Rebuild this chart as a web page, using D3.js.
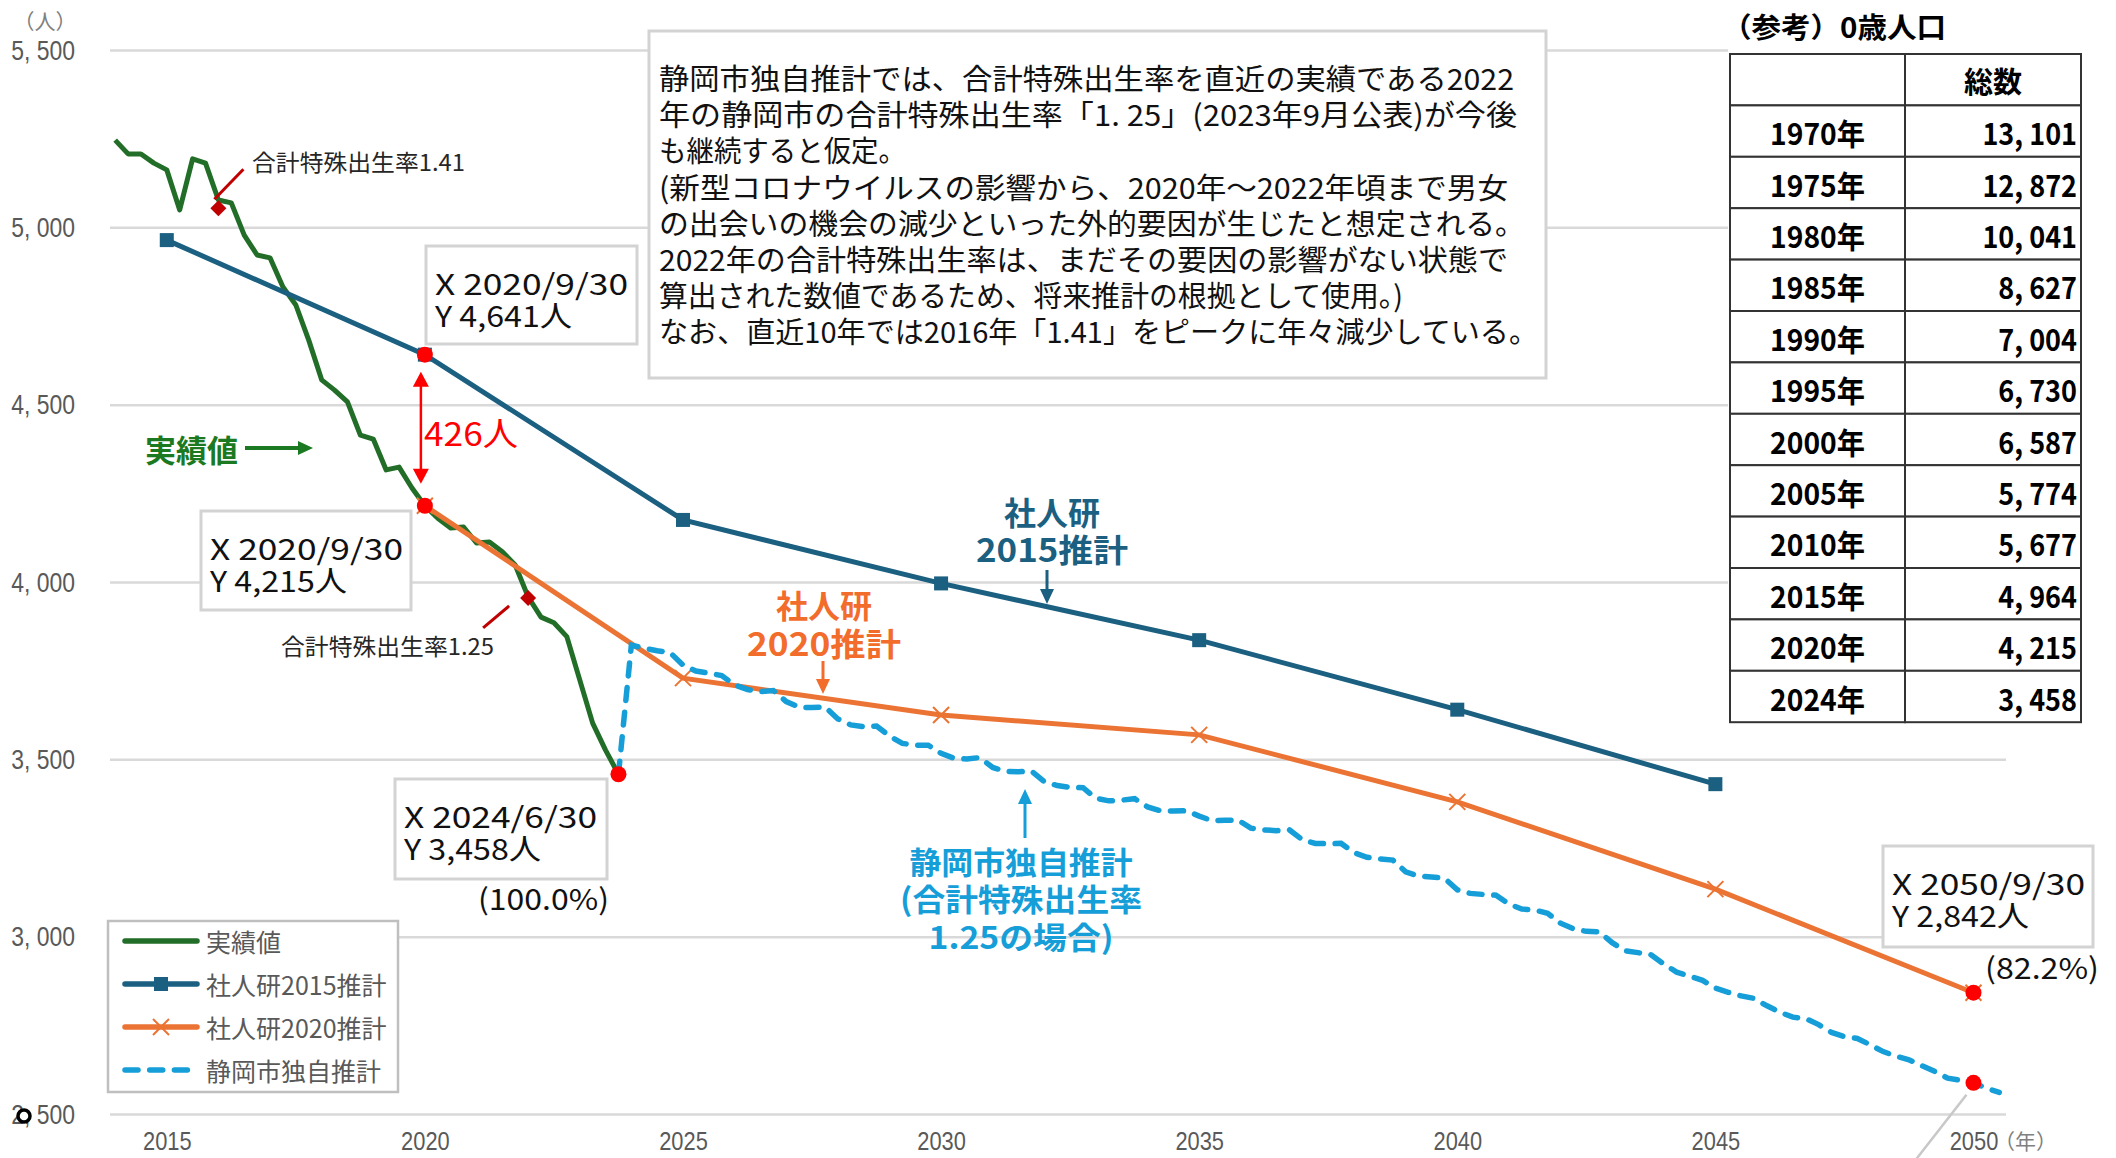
<!DOCTYPE html>
<html>
<head>
<meta charset="utf-8">
<script src="https://cdn.jsdelivr.net/npm/d3@7"></script>
<style>
	body { margin: 0; background: #fff; }
	text { font-family: "Noto Sans CJK JP", "Noto Sans", sans-serif; }
	text.num { font-family: "Liberation Sans", "DejaVu Sans", sans-serif; }
</style>
</head>
<body>
<svg id="chart" width="2116" height="1158"></svg>
<script>
// ---- data (decimal years, 2020.75 = 2020/9/30) ----
const actualStart = 2014.75; // quarterly from 2014/9/30
const actualValues = [5246, 5207, 5207, 5181, 5162, 5049, 5193, 5181, 5077, 5069,
	4978, 4922, 4914, 4832, 4781, 4682, 4570, 4541, 4508, 4414,
	4403, 4316, 4324, 4265, 4215, 4180, 4152, 4155, 4110, 4113,
	4085, 4048, 3958, 3901, 3885, 3846, 3724, 3602, 3526, 3458];

const ipss2015Years = [2015, 2020, 2025, 2030, 2035, 2040, 2045];
const ipss2015Values = [4964, 4641, 4175, 3996, 3836, 3640, 3430];

const ipss2020Years = [2020, 2025, 2030, 2035, 2040, 2045, 2050];
const ipss2020Values = [4215, 3729, 3625, 3569, 3380, 3134, 2842];

const cityStart = 2024.5; // quarterly from 2024/6/30
const cityValues = [3458, 3822, 3813, 3806, 3801, 3766, 3749, 3743, 3736, 3710,
	3697, 3691, 3694, 3663, 3647, 3646, 3648, 3614, 3597, 3592,
	3594, 3566, 3545, 3540, 3540, 3517, 3503, 3501, 3505, 3477,
	3466, 3465, 3467, 3437, 3426, 3421, 3420, 3390, 3383, 3385,
	3389, 3366, 3355, 3354, 3355, 3340, 3327, 3328, 3329, 3306,
	3301, 3299, 3301, 3273, 3263, 3262, 3263, 3237, 3224, 3219,
	3216, 3183, 3171, 3168, 3165, 3132, 3122, 3119, 3117, 3092,
	3078, 3075, 3066, 3038, 3022, 3015, 3014, 2983, 2960, 2955,
	2949, 2923, 2900, 2889, 2877, 2855, 2843, 2833, 2826, 2805,
	2787, 2773, 2769, 2752, 2730, 2718, 2713, 2695, 2676, 2663,
	2653, 2636, 2620, 2601, 2595, 2588, 2573, 2561];

const yTicks = [2500, 3000, 3500, 4000, 4500, 5000, 5500];
const xTicks = [2015, 2020, 2025, 2030, 2035, 2040, 2045, 2050];

// red highlighted points
const highlightPoints = [[2020.75, 4641], [2020.75, 4215], [2024.5, 3458], [2050.75, 2842], [2050.75, 2588]];
// 合計特殊出生率 markers
const tfrPoints = [[2016.75, 5054, "合計特殊出生率1.41"], [2022.75, 3955, "合計特殊出生率1.25"]];

const tableYears = ["1970年", "1975年", "1980年", "1985年", "1990年", "1995年", "2000年", "2005年", "2010年", "2015年", "2020年", "2024年"];
const tableTotals = ["13, 101", "12, 872", "10, 041", "8, 627", "7, 004", "6, 730", "6, 587", "5, 774", "5, 677", "4, 964", "4, 215", "3, 458"];

const noteLines = [
	"静岡市独自推計では、合計特殊出生率を直近の実績である2022",
	"年の静岡市の合計特殊出生率「1. 25」(2023年9月公表)が今後",
	"も継続すると仮定。",
	"(新型コロナウイルスの影響から、2020年～2022年頃まで男女",
	"の出会いの機会の減少といった外的要因が生じたと想定される。",
	"2022年の合計特殊出生率は、まだその要因の影響がない状態で",
	"算出された数値であるため、将来推計の根拠として使用。)",
	"なお、直近10年では2016年「1.41」をピークに年々減少している。"
];
const noteWidths = [855, 858, 247, 849, 866, 849, 744, 879];

const GREEN = "#226e28", BLUE = "#1b5f81", ORANGE = "#eb7333", CYAN = "#159ed8", RED = "#ff0000", DARKRED = "#c00000";

const svg = d3.select("#chart");

const x = d3.scaleLinear().domain([2014.65, 2051.38]).range([110, 2006]);
const y = d3.scaleLinear().domain([2500, 5500]).range([1114, 50]);

function squeeze(sel, f) {
	sel.each(function () {
		let w = this.getComputedTextLength();
		d3.select(this).attr("textLength", w * f).attr("lengthAdjust", "spacingAndGlyphs");
	});
}
function fit(sel, w) {
	sel.attr("textLength", w).attr("lengthAdjust", "spacingAndGlyphs");
}

// ---- axes / grid ----
let gy = svg.append("g")
	.attr("transform", "translate(" + x.range()[0] + ",0)")
	.call(d3.axisLeft(y).tickValues(yTicks)
		.tickSize(-(x.range()[1] - x.range()[0]))
		.tickPadding(35)
		.tickFormat(d => d3.format(",")(d).replace(",", ", ")));
gy.select(".domain").remove();
gy.selectAll("line").attr("stroke", "#d9d9d9").attr("stroke-width", 2.5);
gy.selectAll("text").attr("class", "num")
	.attr("dy", null).attr("dominant-baseline", "central")
	.attr("fill", "#595959").style("font-size", "27px");
squeeze(gy.selectAll("text"), 0.85);

let gx = svg.append("g")
	.attr("transform", "translate(0," + y(2500) + ")")
	.call(d3.axisBottom(x).tickValues(xTicks.map(v => v + 0.75)).tickSize(0).tickFormat(d => Math.floor(d)));
gx.select(".domain").remove();
gx.selectAll("text").attr("class", "num")
	.attr("y", 27).attr("dy", null).attr("dominant-baseline", "central")
	.attr("fill", "#595959").style("font-size", "26px");
squeeze(gx.selectAll("text"), 0.84);

svg.append("text").attr("x", 45).attr("y", 20).attr("text-anchor", "middle")
	.attr("dominant-baseline", "central").attr("fill", "#808080").style("font-size", "21px").text("（人）");
svg.append("text").attr("x", 1994).attr("y", 1140)
	.attr("dominant-baseline", "central").attr("fill", "#808080").style("font-size", "21px").text("（年）");

// odd little ring over the 2,500 label
svg.append("circle").attr("cx", 24).attr("cy", 1116).attr("r", 6)
	.attr("fill", "#fff").attr("stroke", "#000").attr("stroke-width", 3.5);

// ---- series ----
let line = d3.line().x(d => x(d.t)).y(d => y(d.v));

let actual = actualValues.map((v, i) => ({ t: actualStart + i * 0.25, v: v }));
let s2015 = ipss2015Years.map((yr, i) => ({ t: yr + 0.75, v: ipss2015Values[i] }));
let s2020 = ipss2020Years.map((yr, i) => ({ t: yr + 0.75, v: ipss2020Values[i] }));
let city = cityValues.map((v, i) => ({ t: cityStart + i * 0.25, v: v }));

svg.append("path").datum(actual).attr("d", line)
	.attr("fill", "none").attr("stroke", GREEN).attr("stroke-width", 5).attr("stroke-linejoin", "round");

svg.append("path").datum(s2015).attr("d", line)
	.attr("fill", "none").attr("stroke", BLUE).attr("stroke-width", 5);
svg.selectAll(".sq").data(s2015).enter().append("rect")
	.attr("class", "sq")
	.attr("x", d => x(d.t) - 7).attr("y", d => y(d.v) - 7)
	.attr("width", 14).attr("height", 14).attr("fill", BLUE);

svg.append("path").datum(s2020).attr("d", line)
	.attr("fill", "none").attr("stroke", ORANGE).attr("stroke-width", 5);
svg.selectAll(".cross").data(s2020).enter().append("path")
	.attr("class", "cross")
	.attr("d", d => {
		let cx = x(d.t), cy = y(d.v), r = 8;
		return "M" + (cx - r) + "," + (cy - r) + "L" + (cx + r) + "," + (cy + r) +
			"M" + (cx - r) + "," + (cy + r) + "L" + (cx + r) + "," + (cy - r);
	})
	.attr("stroke", ORANGE).attr("stroke-width", 2);

svg.append("path").datum(city).attr("d", line)
	.attr("fill", "none").attr("stroke", CYAN).attr("stroke-width", 5.5)
	.attr("stroke-linecap", "round").attr("stroke-dasharray", "13 11.7");

// 合計特殊出生率 diamonds + leader lines
tfrPoints.forEach((p, i) => {
	let cx = x(p[0]), cy = y(p[1]);
	svg.append("path")
		.attr("d", "M" + cx + "," + (cy - 8) + "L" + (cx + 8) + "," + cy + "L" + cx + "," + (cy + 8) + "L" + (cx - 8) + "," + cy + "Z")
		.attr("fill", DARKRED);
	let t;
	if (i == 0) {
		svg.append("line").attr("x1", cx - 4).attr("y1", cy - 9).attr("x2", cx + 25).attr("y2", cy - 39)
			.attr("stroke", DARKRED).attr("stroke-width", 3);
		t = svg.append("text").attr("x", 252).attr("y", 161);
	} else {
		svg.append("line").attr("x1", cx - 19).attr("y1", cy + 8).attr("x2", cx - 45).attr("y2", cy + 30)
			.attr("stroke", DARKRED).attr("stroke-width", 3);
		t = svg.append("text").attr("x", 281).attr("y", 645);
	}
	t.attr("dominant-baseline", "central").attr("fill", "#262626").style("font-size", "23px").text(p[2]);
	fit(t, 213);
});

// ---- difference arrow 426人 ----
let ax = x(2020.75) - 4;
svg.append("line").attr("x1", ax).attr("x2", ax)
	.attr("y1", y(4641) + 28).attr("y2", y(4215) - 30)
	.attr("stroke", RED).attr("stroke-width", 2.5);
svg.append("path").attr("d", "M" + ax + "," + (y(4641) + 17) + "l-8,15h16z").attr("fill", RED);
svg.append("path").attr("d", "M" + ax + "," + (y(4215) - 22) + "l-8,-15h16z").attr("fill", RED);
let diffLabel = svg.append("text").attr("x", 424).attr("y", 432).attr("dominant-baseline", "central")
	.attr("fill", RED).style("font-size", "33px").text("426人");
fit(diffLabel, 94);

// ---- value boxes ----
function valueBox(bx, by, bw, bh, lines) {
	svg.append("rect").attr("x", bx).attr("y", by).attr("width", bw).attr("height", bh)
		.attr("fill", "#fff").attr("stroke", "#d3d3d3").attr("stroke-width", 3);
	lines.forEach((s, i) => {
		let t = svg.append("text").attr("x", bx + 9).attr("y", by + 36 + i * 31.5)
			.attr("dominant-baseline", "central").attr("fill", "#111").style("font-size", "29px").text(s);
		fit(t, i == 0 ? 193 : 137);
	});
}
valueBox(426, 246, 211, 98, ["X 2020/9/30", "Y 4,641人"]);
valueBox(201, 511, 210, 99, ["X 2020/9/30", "Y 4,215人"]);
valueBox(395, 779, 212, 100, ["X 2024/6/30", "Y 3,458人"]);
valueBox(1883, 846, 210, 101, ["X 2050/9/30", "Y 2,842人"]);

let pct1 = svg.append("text").attr("x", 478).attr("y", 897).attr("dominant-baseline", "central")
	.attr("fill", "#111").style("font-size", "29px").text("(100.0%)");
fit(pct1, 131);
let pct2 = svg.append("text").attr("x", 1985).attr("y", 966).attr("dominant-baseline", "central")
	.attr("fill", "#111").style("font-size", "29px").text("(82.2%)");
fit(pct2, 114);

// leader from the 2050 dashed point
svg.append("line")
	.attr("x1", x(2050.75) - 7).attr("y1", y(2588) + 12)
	.attr("x2", x(2050.75) - 57).attr("y2", y(2588) + 76)
	.attr("stroke", "#c8c8c8").attr("stroke-width", 2.5);

// red points on top
svg.selectAll(".hl").data(highlightPoints).enter().append("circle")
	.attr("class", "hl")
	.attr("cx", d => x(d[0])).attr("cy", d => y(d[1])).attr("r", 8).attr("fill", RED);

// ---- series labels ----
function label(cx, cys, lines, widths, color, size) {
	lines.forEach((s, i) => {
		let t = svg.append("text").attr("x", cx).attr("y", cys[i]).attr("text-anchor", "middle")
			.attr("dominant-baseline", "central").attr("fill", color)
			.style("font-size", size + "px").style("font-weight", "bold").text(s);
		if (widths[i]) fit(t, widths[i]);
	});
}
function arrow(x0, y0, y1, color, w) {
	let dir = y1 > y0 ? 1 : -1;
	svg.append("line").attr("x1", x0).attr("x2", x0).attr("y1", y0).attr("y2", y1 - dir * 12)
		.attr("stroke", color).attr("stroke-width", w);
	svg.append("path").attr("d", "M" + x0 + "," + y1 + "l-7," + (-dir * 15) + "h14z").attr("fill", color);
}

label(1052, [511, 548], ["社人研", "2015推計"], [0, 152], BLUE, 32);
arrow(1047, 570, 604, BLUE, 3);
label(824, [604, 642], ["社人研", "2020推計"], [0, 154], "#f26c2c", 32);
arrow(823, 661, 694, "#f26c2c", 3);
label(1021, [860, 897, 935], ["静岡市独自推計", "(合計特殊出生率", "1.25の場合)"], [223, 242, 185], CYAN, 31);
arrow(1025, 838, 789, CYAN, 3);

svg.append("text").attr("x", 145).attr("y", 448).attr("dominant-baseline", "central")
	.attr("fill", "#1b7a21").style("font-size", "31px").style("font-weight", "bold").text("実績値");
svg.append("line").attr("x1", 245).attr("x2", 300).attr("y1", 448).attr("y2", 448)
	.attr("stroke", "#1b7a21").attr("stroke-width", 4);
svg.append("path").attr("d", "M313,448l-15,-7v14z").attr("fill", "#1b7a21");

// ---- note box ----
svg.append("rect").attr("x", 649).attr("y", 31).attr("width", 897).attr("height", 347)
	.attr("fill", "#fff").attr("stroke", "#d3d3d3").attr("stroke-width", 3);
noteLines.forEach((s, i) => {
	let t = svg.append("text").attr("x", 659).attr("y", 77 + i * 36.2)
		.attr("dominant-baseline", "central").attr("fill", "#111").style("font-size", "29px").text(s);
	fit(t, noteWidths[i]);
});

// ---- reference table ----
svg.append("rect").attr("x", 1728).attr("y", 0).attr("width", 388).attr("height", 724).attr("fill", "#fff");
let ttl = svg.append("text").attr("x", 1722).attr("y", 26).attr("dominant-baseline", "central")
	.attr("fill", "#000").style("font-size", "28px").style("font-weight", "bold").text("（参考）0歳人口");
fit(ttl, 224);

const tX = 1730, tMid = 1905, tR = 2081, tTop = 54, rowH = 51.4;
let rows = [["", "総数"]].concat(tableYears.map((yr, i) => [yr, tableTotals[i]]));
let tg = svg.append("g");
rows.forEach((r, i) => {
	let ry = tTop + i * rowH;
	tg.append("rect").attr("x", tX).attr("y", ry).attr("width", tMid - tX).attr("height", rowH)
		.attr("fill", "#fff").attr("stroke", "#333").attr("stroke-width", 2);
	tg.append("rect").attr("x", tMid).attr("y", ry).attr("width", tR - tMid).attr("height", rowH)
		.attr("fill", "#fff").attr("stroke", "#333").attr("stroke-width", 2);
	if (i == 0) {
		tg.append("text").attr("x", (tMid + tR) / 2).attr("y", ry + rowH / 2).attr("text-anchor", "middle")
			.attr("dominant-baseline", "central").style("font-size", "29px").style("font-weight", "bold").text(r[1]);
	} else {
		let yl = tg.append("text").attr("x", (tX + tMid) / 2).attr("y", ry + rowH / 2 + 1).attr("text-anchor", "middle")
			.attr("dominant-baseline", "central").style("font-size", "30px").style("font-weight", "bold").text(r[0]);
		squeeze(yl, 0.94);
		let v = tg.append("text").attr("x", tR - 4).attr("y", ry + rowH / 2 + 1).attr("text-anchor", "end")
			.attr("dominant-baseline", "central").style("font-size", "30px").style("font-weight", "bold").text(r[1]);
		squeeze(v, 0.9);
	}
});

// ---- legend ----
svg.append("rect").attr("x", 108).attr("y", 921).attr("width", 290).attr("height", 171)
	.attr("fill", "#fff").attr("stroke", "#bfbfbf").attr("stroke-width", 2.5);
const legendItems = [["実績値", GREEN], ["社人研2015推計", BLUE], ["社人研2020推計", ORANGE], ["静岡市独自推計", CYAN]];
legendItems.forEach((it, i) => {
	let ly = 941 + i * 43;
	let l = svg.append("line").attr("x1", 125).attr("x2", i == 3 ? 189 : 197).attr("y1", ly).attr("y2", ly)
		.attr("stroke", it[1]).attr("stroke-width", 5.5).attr("stroke-linecap", "round");
	if (i == 3) l.attr("stroke-dasharray", "13 11.7");
	if (i == 1) svg.append("rect").attr("x", 154).attr("y", ly - 7).attr("width", 14).attr("height", 14).attr("fill", BLUE);
	if (i == 2) svg.append("path").attr("d", "M153," + (ly - 8) + "l16,16M153," + (ly + 8) + "l16,-16")
		.attr("stroke", ORANGE).attr("stroke-width", 2);
	svg.append("text").attr("x", 206).attr("y", ly).attr("dominant-baseline", "central")
		.attr("fill", "#595959").style("font-size", "25px").text(it[0]);
});
</script>
</body>
</html>
